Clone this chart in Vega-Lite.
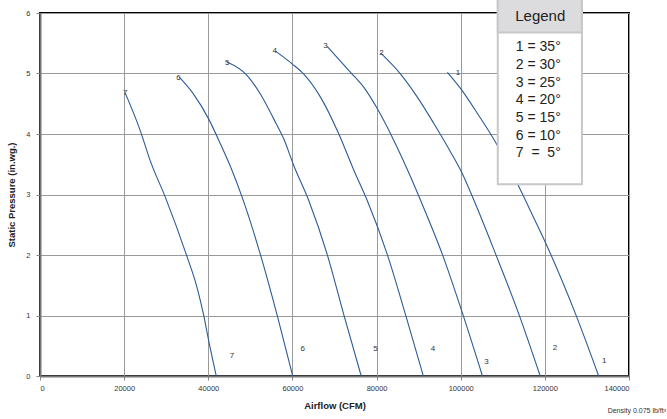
{
  "$schema": "https://vega.github.io/schema/vega-lite/v6.json",
  "width": 589,
  "height": 363,
  "autosize": {"type": "none"},
  "padding": {"left": 40, "top": 13, "right": 38, "bottom": 43},
  "background": "white",
  "config": {
    "view": {"stroke": "black", "strokeWidth": 2},
    "font": "Liberation Sans",
    "axis": {
      "labelFont": "Liberation Sans",
      "labelFontSize": 7.5,
      "labelColor": "#333333",
      "titleFont": "Liberation Sans",
      "titleFontSize": 9.5,
      "titleFontWeight": "bold",
      "titleColor": "#222222",
      "gridColor": "#9a9a9a",
      "gridWidth": 1,
      "domainColor": "#777777",
      "domainWidth": 2,
      "tickColor": "#888888",
      "tickSize": 4
    }
  },
  "datasets": {
    "curves": [
      {"curve": "1", "airflow": 96830, "pressure": 5.02},
      {"curve": "1", "airflow": 100000, "pressure": 4.75},
      {"curve": "1", "airflow": 103970, "pressure": 4.34},
      {"curve": "1", "airflow": 108730, "pressure": 3.81},
      {"curve": "1", "airflow": 113890, "pressure": 3.12},
      {"curve": "1", "airflow": 117460, "pressure": 2.6},
      {"curve": "1", "airflow": 120240, "pressure": 2.19},
      {"curve": "1", "airflow": 127380, "pressure": 1.01},
      {"curve": "1", "airflow": 132790, "pressure": 0},
      {"curve": "2", "airflow": 80950, "pressure": 5.34},
      {"curve": "2", "airflow": 85710, "pressure": 4.99},
      {"curve": "2", "airflow": 89690, "pressure": 4.61},
      {"curve": "2", "airflow": 93650, "pressure": 4.17},
      {"curve": "2", "airflow": 97620, "pressure": 3.7},
      {"curve": "2", "airflow": 100000, "pressure": 3.4},
      {"curve": "2", "airflow": 103170, "pressure": 2.9},
      {"curve": "2", "airflow": 108330, "pressure": 2.01},
      {"curve": "2", "airflow": 113880, "pressure": 1.01},
      {"curve": "2", "airflow": 118890, "pressure": 0},
      {"curve": "3", "airflow": 68250, "pressure": 5.45},
      {"curve": "3", "airflow": 73810, "pressure": 5.02},
      {"curve": "3", "airflow": 76980, "pressure": 4.77},
      {"curve": "3", "airflow": 80160, "pressure": 4.42},
      {"curve": "3", "airflow": 84130, "pressure": 3.89},
      {"curve": "3", "airflow": 88100, "pressure": 3.29},
      {"curve": "3", "airflow": 90480, "pressure": 2.9},
      {"curve": "3", "airflow": 95640, "pressure": 2.01},
      {"curve": "3", "airflow": 100550, "pressure": 1.01},
      {"curve": "3", "airflow": 105170, "pressure": 0},
      {"curve": "4", "airflow": 55950, "pressure": 5.37},
      {"curve": "4", "airflow": 59920, "pressure": 5.16},
      {"curve": "4", "airflow": 62700, "pressure": 4.99},
      {"curve": "4", "airflow": 66670, "pressure": 4.61},
      {"curve": "4", "airflow": 71030, "pressure": 4.0},
      {"curve": "4", "airflow": 74600, "pressure": 3.4},
      {"curve": "4", "airflow": 77780, "pressure": 2.9},
      {"curve": "4", "airflow": 82540, "pressure": 2.01},
      {"curve": "4", "airflow": 86900, "pressure": 1.01},
      {"curve": "4", "airflow": 91110, "pressure": 0},
      {"curve": "5", "airflow": 44440, "pressure": 5.19},
      {"curve": "5", "airflow": 49200, "pressure": 4.97},
      {"curve": "5", "airflow": 52380, "pressure": 4.66},
      {"curve": "5", "airflow": 55550, "pressure": 4.25},
      {"curve": "5", "airflow": 57930, "pressure": 3.92},
      {"curve": "5", "airflow": 60310, "pressure": 3.48},
      {"curve": "5", "airflow": 63880, "pressure": 2.9},
      {"curve": "5", "airflow": 68260, "pressure": 2.01},
      {"curve": "5", "airflow": 72220, "pressure": 1.01},
      {"curve": "5", "airflow": 76350, "pressure": 0},
      {"curve": "6", "airflow": 33100, "pressure": 4.94},
      {"curve": "6", "airflow": 36500, "pressure": 4.66},
      {"curve": "6", "airflow": 40080, "pressure": 4.25},
      {"curve": "6", "airflow": 42860, "pressure": 3.84},
      {"curve": "6", "airflow": 45630, "pressure": 3.4},
      {"curve": "6", "airflow": 48020, "pressure": 2.96},
      {"curve": "6", "airflow": 52380, "pressure": 2.01},
      {"curve": "6", "airflow": 56350, "pressure": 1.01},
      {"curve": "6", "airflow": 60070, "pressure": 0},
      {"curve": "7", "airflow": 20240, "pressure": 4.68},
      {"curve": "7", "airflow": 23810, "pressure": 4.06},
      {"curve": "7", "airflow": 26190, "pressure": 3.56},
      {"curve": "7", "airflow": 29760, "pressure": 2.96},
      {"curve": "7", "airflow": 34760, "pressure": 2.01},
      {"curve": "7", "airflow": 37300, "pressure": 1.47},
      {"curve": "7", "airflow": 38890, "pressure": 1.01},
      {"curve": "7", "airflow": 40080, "pressure": 0.59},
      {"curve": "7", "airflow": 41900, "pressure": 0}
    ],
    "labels": [
      {"label": "7", "airflow": 20240, "pressure": 4.67},
      {"label": "6", "airflow": 32930, "pressure": 4.93},
      {"label": "5", "airflow": 44520, "pressure": 5.18},
      {"label": "4", "airflow": 55790, "pressure": 5.38},
      {"label": "3", "airflow": 67860, "pressure": 5.45},
      {"label": "2", "airflow": 81190, "pressure": 5.34},
      {"label": "1", "airflow": 99360, "pressure": 5.01},
      {"label": "7", "airflow": 45630, "pressure": 0.335},
      {"label": "6", "airflow": 62460, "pressure": 0.446},
      {"label": "5", "airflow": 79760, "pressure": 0.446},
      {"label": "4", "airflow": 93400, "pressure": 0.446},
      {"label": "3", "airflow": 106100, "pressure": 0.23},
      {"label": "2", "airflow": 122380, "pressure": 0.467},
      {"label": "1", "airflow": 134130, "pressure": 0.25}
    ]
  },
  "layer": [
    {
      "data": {"name": "curves"},
      "mark": {"type": "line", "interpolate": "monotone", "color": "#2b5b94", "strokeWidth": 1.1},
      "encoding": {
        "x": {
          "field": "airflow", "type": "quantitative",
          "scale": {"domain": [0, 140000], "nice": false, "zero": false},
          "axis": {"title": "Airflow (CFM)", "values": [0, 20000, 40000, 60000, 80000, 100000, 120000, 140000], "format": "d", "labelPadding": 4, "titlePadding": 9}
        },
        "y": {
          "field": "pressure", "type": "quantitative",
          "scale": {"domain": [0, 6], "nice": false},
          "axis": {"title": "Static Pressure (in.wg.)", "values": [0, 1, 2, 3, 4, 5, 6], "format": "d", "labelPadding": 6, "titlePadding": 9}
        },
        "detail": {"field": "curve"},
        "order": {"field": "airflow", "type": "quantitative"}
      }
    },
    {
      "data": {"name": "labels"},
      "mark": {"type": "text", "fontSize": 8, "color": "#333333", "font": "Liberation Sans"},
      "encoding": {
        "x": {"field": "airflow", "type": "quantitative", "scale": {"domain": [0, 140000], "nice": false}},
        "y": {"field": "pressure", "type": "quantitative", "scale": {"domain": [0, 6], "nice": false}},
        "text": {"field": "label"}
      }
    },
    {
      "data": {"values": [{}]},
      "mark": {"type": "rect", "fill": "white", "stroke": "#c8c8c8", "strokeWidth": 2},
      "encoding": {
        "x": {"datum": 108810, "type": "quantitative", "scale": {"domain": [0, 140000], "nice": false}},
        "x2": {"datum": 128810},
        "y": {"datum": 3.168, "type": "quantitative", "scale": {"domain": [0, 6], "nice": false}},
        "y2": {"datum": 6.3}
      }
    },
    {
      "data": {"values": [{}]},
      "mark": {"type": "rect", "fill": "#dcdcde", "stroke": "#c8c8c8", "strokeWidth": 2},
      "encoding": {
        "x": {"datum": 108810, "type": "quantitative", "scale": {"domain": [0, 140000], "nice": false}},
        "x2": {"datum": 128810},
        "y": {"datum": 5.677, "type": "quantitative", "scale": {"domain": [0, 6], "nice": false}},
        "y2": {"datum": 6.3}
      }
    },
    {
      "data": {"values": [{}]},
      "mark": {"type": "text", "text": "Legend", "fontSize": 15, "color": "#222222", "font": "Liberation Sans", "align": "center", "baseline": "middle"},
      "encoding": {
        "x": {"datum": 118900, "type": "quantitative", "scale": {"domain": [0, 140000], "nice": false}},
        "y": {"datum": 5.95, "type": "quantitative", "scale": {"domain": [0, 6], "nice": false}}
      }
    },
    {
      "data": {"values": [{}]},
      "mark": {
        "type": "text",
        "text": ["1 = 35°", "2 = 30°", "3 = 25°", "4 = 20°", "5 = 15°", "6 = 10°", "7 \u00a0= \u00a05°"],
        "fontSize": 14, "lineHeight": 17.7, "color": "#222222", "font": "Liberation Sans", "align": "left", "baseline": "middle"
      },
      "encoding": {
        "x": {"datum": 113100, "type": "quantitative", "scale": {"domain": [0, 140000], "nice": false}},
        "y": {"datum": 5.434, "type": "quantitative", "scale": {"domain": [0, 6], "nice": false}}
      }
    },
    {
      "data": {"values": [{}]},
      "mark": {"type": "text", "text": "Density 0.075 lb/ft³", "fontSize": 7, "color": "#333333", "font": "Liberation Sans", "align": "right", "baseline": "middle"},
      "encoding": {
        "x": {"datum": 148800, "type": "quantitative", "scale": {"domain": [0, 140000], "nice": false}},
        "y": {"datum": -0.58, "type": "quantitative", "scale": {"domain": [0, 6], "nice": false}}
      }
    }
  ]
}
